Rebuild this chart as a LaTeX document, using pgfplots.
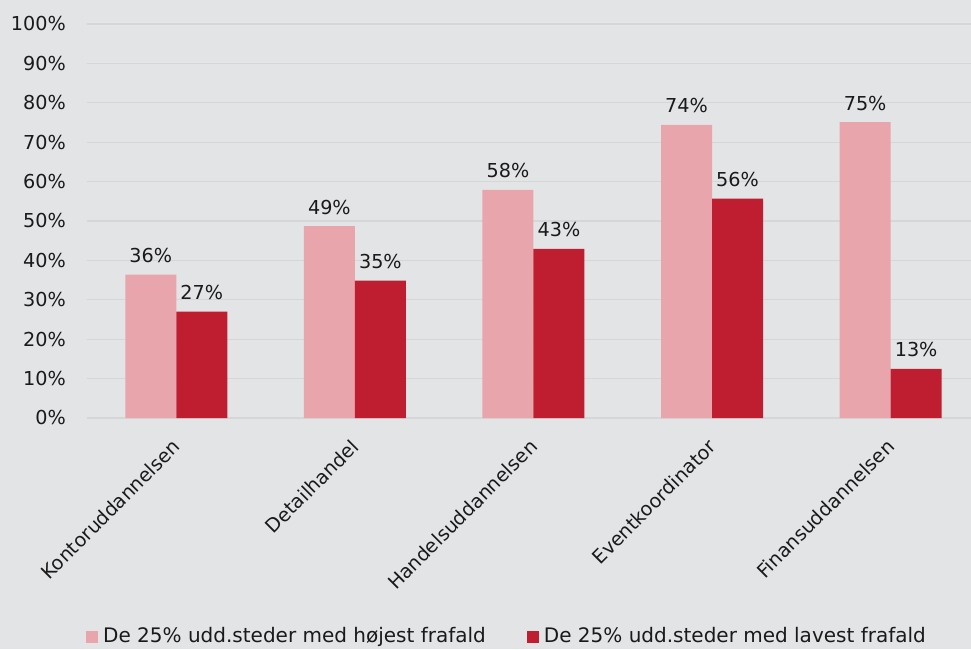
\documentclass[border=0pt]{standalone}
\usepackage{fontspec}
\setmainfont{DejaVu Sans}
\usepackage{pgfplots}
\pgfplotsset{compat=1.18}
\definecolor{bgc}{HTML}{E3E4E6}
\definecolor{gridc}{HTML}{D5D6D8}
\definecolor{pinkc}{HTML}{E8A6AC}
\definecolor{redc}{HTML}{BE1E2F}
\definecolor{txt}{HTML}{1A1A1A}
\begin{document}
\begin{tikzpicture}[font=\fontsize{19.2}{23}\selectfont, text=txt]
\useasboundingbox (-87pt,-231pt) rectangle (884pt,418pt);
\fill[bgc] (-87pt,-231pt) rectangle (884pt,418pt);
\begin{axis}[
    at={(0pt,0pt)}, anchor=south west,
    scale only axis, width=884pt, height=394pt,
    xmin=-0.5, xmax=4.45, ymin=0, ymax=100,
    axis line style={draw=none},
    major tick length=0pt,
    ytick={0,10,...,100},
    yticklabel={\pgfmathprintnumber{\tick}\%},
    yticklabel style={inner sep=0pt, xshift=-21pt, anchor=east},
    /pgf/number format/assume math mode=true,
    ymajorgrids, grid style={gridc, line width=1.2pt},
    xtick={0,1,2,3,4},
    xticklabels={Kontoruddannelsen, Detailhandel, Handelsuddannelsen, Eventkoordinator, Finansuddannelsen},
    xticklabel style={rotate=45, anchor=north east, inner sep=0pt, xshift=-17.6pt, yshift=-10.4pt},
    legend style={at={(0.474,-0.553)}, anchor=center, draw=none, fill=none,
        legend columns=-1, inner sep=0pt, font=\fontsize{20}{24}\selectfont,
        nodes={inner sep=0pt},
        /tikz/every odd column/.append style={column sep=5pt},
        /tikz/every even column/.append style={column sep=41pt}},
    legend cell align=left,
]
\addplot[ybar, bar width=51pt, bar shift=-25.5pt, fill=pinkc, draw=none,
    nodes near coords, point meta=explicit symbolic,
    nodes near coords style={anchor=base, xshift=-25.5pt, yshift=12pt, text=txt, inner sep=0pt},
    legend image code/.code={\fill[pinkc] (0pt,-7pt) rectangle (12pt,5pt);}]
    coordinates {(0,36.4) [36\%] (1,48.7) [49\%] (2,57.9) [58\%] (3,74.4) [74\%] (4,75.1) [75\%]};
\addplot[ybar, bar width=51pt, bar shift=25.5pt, fill=redc, draw=none,
    nodes near coords, point meta=explicit symbolic,
    nodes near coords style={anchor=base, xshift=25.5pt, yshift=12pt, text=txt, inner sep=0pt},
    legend image code/.code={\fill[redc] (0pt,-7pt) rectangle (12pt,5pt);}]
    coordinates {(0,27.0) [27\%] (1,34.9) [35\%] (2,42.9) [43\%] (3,55.7) [56\%] (4,12.5) [13\%]};
\legend{De 25\% udd.steder med højest frafald, De 25\% udd.steder med lavest frafald}
\end{axis}
\end{tikzpicture}
\end{document}
